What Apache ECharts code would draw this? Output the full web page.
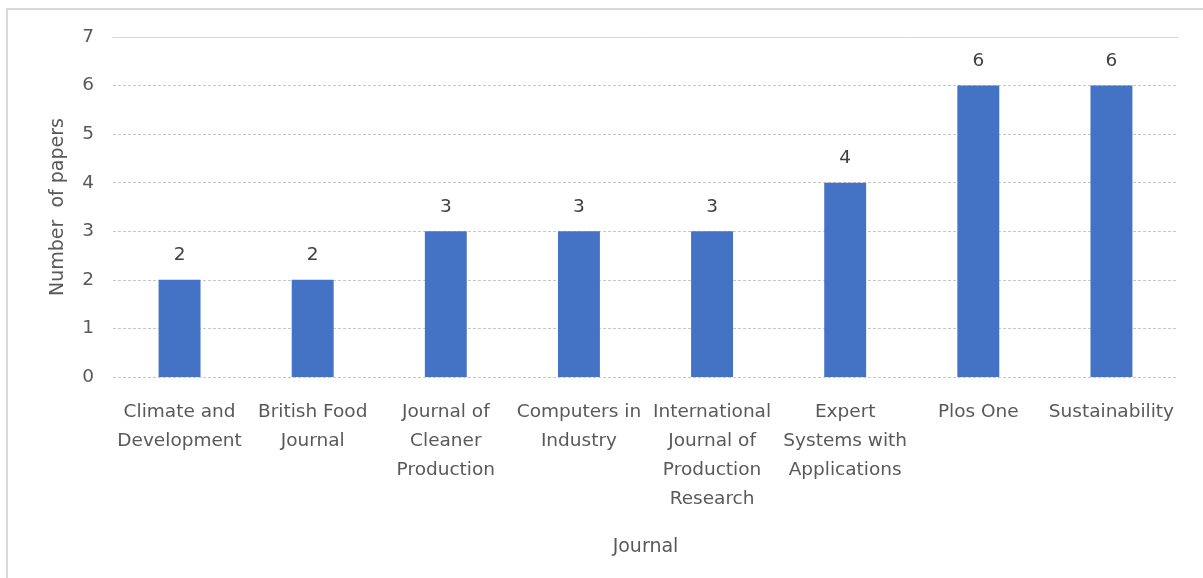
<!DOCTYPE html>
<html>
<head>
<meta charset="utf-8">
<script src="https://cdn.jsdelivr.net/npm/echarts@6/dist/echarts.min.js"></script>
<style>
html,body{margin:0;padding:0;background:#fff;overflow:hidden;}
#frame{position:absolute;left:6px;top:8px;width:1300px;height:700px;border:2px solid #d9d9d9;box-sizing:border-box;}
#chart{position:absolute;left:0;top:0;width:1203px;height:578px;}
</style>
</head>
<body>
<div id="frame"></div>
<div id="chart"></div>
<script>
const categories = [
  "Climate and\nDevelopment",
  "British Food\nJournal",
  "Journal of\nCleaner\nProduction",
  "Computers in\nIndustry",
  "International\nJournal of\nProduction\nResearch",
  "Expert\nSystems with\nApplications",
  "Plos One",
  "Sustainability"
];
const papers = [2, 2, 3, 3, 3, 4, 6, 6];
const yTicks = [0, 1, 2, 3, 4, 5, 6, 7];

const font = '"DejaVu Sans", sans-serif';
const chart = echarts.init(document.getElementById('chart'));
chart.setOption({
  animation: false,
  textStyle: { fontFamily: font },
  grid: { left: 113, right: 25, top: 37, bottom: 201 },
  xAxis: [{
    type: 'category',
    data: categories,
    name: 'Journal',
    nameLocation: 'middle',
    nameGap: 161,
    nameTextStyle: { color: '#595959', fontSize: 19, fontFamily: font },
    axisLine: { show: false },
    axisTick: { show: false },
    axisLabel: { color: '#595959', fontSize: 18.5, lineHeight: 29, margin: 21, interval: 0, fontFamily: font }
  }, {
    type: 'category',
    position: 'top',
    data: categories,
    axisLine: { show: true, lineStyle: { color: '#d9d9d9', width: 1 } },
    axisTick: { show: false },
    axisLabel: { show: false }
  }],
  yAxis: {
    type: 'value',
    min: yTicks[0],
    max: yTicks[yTicks.length - 1],
    interval: 1,
    name: 'Number  of papers',
    nameLocation: 'middle',
    nameGap: 45,
    nameTextStyle: { color: '#595959', fontSize: 19, fontFamily: font },
    axisLine: { show: false },
    axisTick: { show: false },
    axisLabel: { color: '#595959', fontSize: 18.5, margin: 19, fontFamily: font },
    splitLine: { show: true, lineStyle: { color: '#c8c8c8', type: [3, 2], width: 1 } }
  },
  series: [{
    type: 'bar',
    data: papers,
    barWidth: '31.5%',
    itemStyle: { color: '#4472c4' },
    label: { show: true, position: 'top', distance: 15, color: '#404040', fontSize: 18.5, fontFamily: font }
  }]
});
</script>
</body>
</html>
